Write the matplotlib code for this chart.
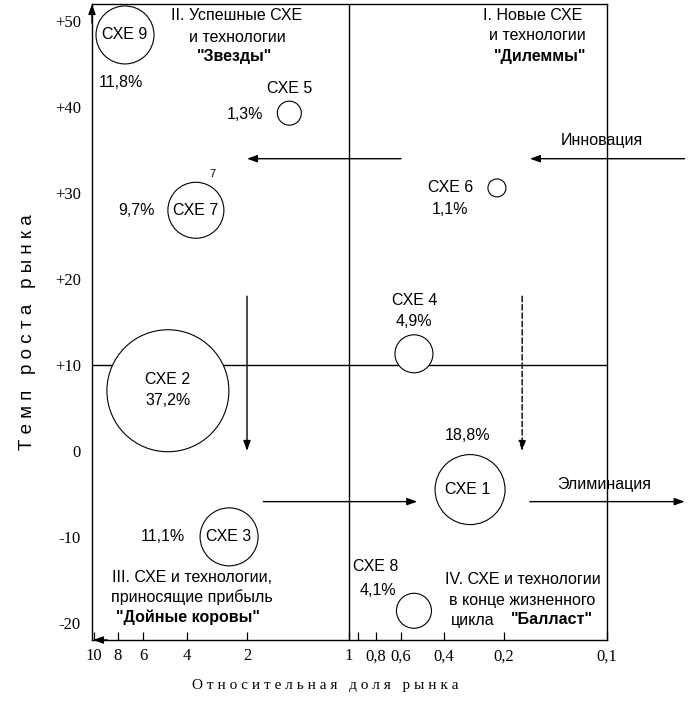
import numpy as np
import matplotlib
matplotlib.use('Agg')
import matplotlib.pyplot as plt
from matplotlib.ticker import NullLocator

sxe_names = ['СХЕ 1', 'СХЕ 2', 'СХЕ 3', 'СХЕ 4', 'СХЕ 5',
             'СХЕ 6', 'СХЕ 7', 'СХЕ 8', 'СХЕ 9']
rel_share = [0.296, 4.77, 2.46, 0.531, 1.50, 0.217, 3.61, 0.531, 7.38]
growth = [-4.5, 7.0, -10.0, 11.3, 39.3, 30.6, 28.0, -18.6, 48.4]
sales_pct = ['18,8%', '37,2%', '11,1%', '4,9%', '1,3%',
             '1,1%', '9,7%', '4,1%', '11,8%']

x_tick_vals = [10, 8, 6, 4, 2, 1, 0.9, 0.8, 0.6, 0.4, 0.2, 0.1]
x_tick_labels = ['10', '8', '6', '4', '2', '1', '', '0,8', '0,6', '0,4', '0,2', '0,1']
y_tick_vals = [50, 40, 30, 20, 10, 0, -10, -20]
y_tick_labels = ['+50', '+40', '+30', '+20', '+10', '0', '-10', '-20']

share_split = 1
growth_split = 10

# strategy arrows (start -> end)
arrow_x0 = [0.05, 0.6, 2.0, 0.177, 1.79, 0.168]
arrow_y0 = [34, 34, 18, 18, -5.9, -5.9]
arrow_x1 = [0.168, 2.0, 2.0, 0.177, 0.515, 0.05]
arrow_y1 = [34, 34, 0, 0, -5.9, -5.9]

# --- drawing styles ---
bubble_r = [35, 61, 29, 19, 12, 9, 28, 17.5, 29]          # radius, px
name_off = [(-2, 0), (0, 11), (0, 0), (1, 53), (0, 25),
            (-46, 0), (0, 0), (-38, 44), (0, 0)]           # px
pct_off = [(-3, 54), (0, -10), (-66, 0), (0, 32), (-44, -1),
           (-47, -22), (-59, 0), (-36, 20), (-4, -48)]
arrow_dashed = [False, False, False, True, False, False]

# hand drawn axis: where each tick value sits (px from figure left)
tick_px = [94, 118, 143, 187, 247, 349, 358, 376, 401, 444, 504, 607]
scale_lv = np.log10(np.array([100] + x_tick_vals + [0.01]))[::-1]
scale_u = -np.array([94 - 258] + tick_px + [607 + 258], dtype=float)[::-1]


def fwd(x):
    x = np.clip(np.asarray(x, dtype=float), 1e-6, None)
    return np.interp(np.log10(x), scale_lv, scale_u)


def inv(u):
    return 10 ** np.interp(u, scale_u, scale_lv)


sans = 'Liberation Sans'
serif = 'Liberation Serif'
FS = 11.5

fig = plt.figure(figsize=(7.0, 7.14), dpi=100)
ax = fig.add_axes([92 / 700, 74 / 714, 515 / 700, 636 / 714])
ax.set_xscale('function', functions=(fwd, inv))
ax.set_ylim(-22, 52)

for sp in ax.spines.values():
    sp.set_linewidth(1.0)
    sp.set_color('black')

ax.set_xticks(x_tick_vals)
ax.set_xticklabels(x_tick_labels, fontfamily=serif, fontsize=12)
ax.xaxis.set_minor_locator(NullLocator())
ax.tick_params(axis='x', direction='in', length=6, width=0.9, pad=6)
ax.set_yticks(y_tick_vals)
ax.set_yticklabels(y_tick_labels, fontfamily=serif, fontsize=12)
ax.tick_params(axis='y', length=0, pad=8)
ax.set_xlim(inv(-92), inv(-607))

ax.axhline(growth_split, color='black', lw=1.0, zorder=1)
ax.axvline(share_split, color='black', lw=1.0, zorder=1)

# axis arrows
head = '-|>,head_length=0.5,head_width=0.18'
ax.annotate('', xy=(0, 1.0), xycoords='axes fraction', xytext=(0, 0.97),
            arrowprops=dict(arrowstyle=head, mutation_scale=12, color='black',
                            lw=1, shrinkA=0, shrinkB=0))
ax.annotate('', xy=(0.002, 0), xycoords='axes fraction', xytext=(0.03, 0),
            arrowprops=dict(arrowstyle=head, mutation_scale=12, color='black',
                            lw=1, shrinkA=0, shrinkB=0))

# bubbles
sizes = (1.44 * np.array(bubble_r)) ** 2
ax.scatter(rel_share, growth, s=sizes, facecolors='white', edgecolors='black',
           linewidths=0.8, zorder=3, clip_on=False)
for i in range(len(sxe_names)):
    ax.annotate(sxe_names[i], (rel_share[i], growth[i]), xytext=name_off[i],
                textcoords='offset pixels', ha='center', va='center',
                fontfamily=sans, fontsize=FS, zorder=4)
    ax.annotate(sales_pct[i], (rel_share[i], growth[i]), xytext=pct_off[i],
                textcoords='offset pixels', ha='center', va='center',
                fontfamily=sans, fontsize=FS, zorder=4)
ax.annotate('7', xy=(212, 714 - 174), xycoords='figure pixels',
            ha='center', va='center', fontfamily=sans, fontsize=8)

# movement arrows
for x0, y0, x1, y1, dashed in zip(arrow_x0, arrow_y0, arrow_x1, arrow_y1, arrow_dashed):
    ax.annotate('', xy=(x1, y1), xytext=(x0, y0), annotation_clip=False,
                arrowprops=dict(arrowstyle=head, mutation_scale=12, color='black',
                                lw=1, shrinkA=0, shrinkB=0,
                                linestyle=(0, (4, 2)) if dashed else '-'))

# quadrant captions (text, x px, y px from top, bold)
captions = [
    ('II. Успешные СХЕ', 237, 16, False),
    ('и технологии', 237, 37, False),
    ('"Звезды"', 235, 57, True),
    ('I. Новые СХЕ', 533, 16, False),
    ('и технологии', 537, 36, False),
    ('"Дилеммы"', 540, 57, True),
    ('III. СХЕ и технологии,', 192, 577, False),
    ('приносящие прибыль', 192, 597, False),
    ('"Дойные коровы"', 188, 617, True),
    ('IV. СХЕ и технологии', 523, 579, False),
    ('в конце жизненного', 522, 600, False),
    ('цикла', 473, 620, False),
    ('"Балласт"', 552, 620, True),
    ('Инновация', 602, 141, False),
    ('Элиминация', 604, 484, False),
]
for txt, px, py, bold in captions:
    ax.annotate(txt, xy=(px, 714 - py), xycoords='figure pixels',
                ha='center', va='center', fontfamily=sans, fontsize=FS,
                fontweight='bold' if bold else 'normal')

fig.text(28 / 700, 1 - 332 / 714, 'Т е м п   р о с т а   р ы н к а',
         rotation=90, ha='center', va='center', fontfamily=sans, fontsize=13.5)
fig.text(325 / 700, 1 - 686 / 714, 'О т н о с и т е л ь н а я   д о л я   р ы н к а',
         ha='center', va='center', fontfamily=serif, fontsize=11)

fig.savefig('out.png', dpi=100)
